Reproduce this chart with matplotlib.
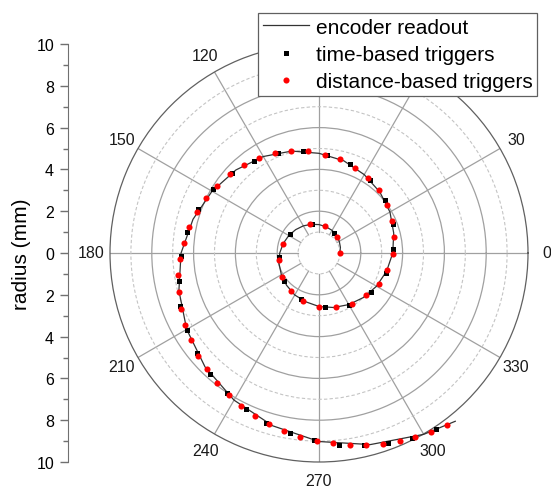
import numpy as np
import matplotlib.pyplot as plt

plt.rcParams['font.family'] = ['Liberation Sans', 'DejaVu Sans']

# encoder readout (angle in degrees, accumulated over the turns; radius in mm)
enc_deg = [0, 15, 30, 45, 60, 75, 90, 105, 120, 135, 150, 165, 180, 195, 210,
           225, 240, 255, 270, 285, 300, 315, 330, 345, 360, 375, 390, 405,
           420, 435, 450, 465, 480, 495, 510, 525, 540, 555, 570, 585, 600,
           615, 630, 645, 660, 669]
enc_r = [1.00, 1.06, 1.12, 1.18, 1.25, 1.30, 1.36, 1.42, 1.50, 1.58, 1.67,
         1.77, 1.88, 1.98, 2.08, 2.19, 2.32, 2.42, 2.56, 2.70, 2.85, 3.01,
         3.18, 3.35, 3.53, 3.70, 3.92, 4.12, 4.33, 4.57, 4.77, 5.05, 5.33,
         5.62, 5.91, 6.24, 6.60, 6.94, 7.31, 7.71, 8.13, 8.56, 9.02, 9.49,
         10.02, 10.36]

# time-based triggers
time_deg = [53, 103.7, 147, 185.7, 218.7, 248.4, 276, 299.9, 323.2, 343.4,
            363.1, 381.2, 398.7, 415.4, 430.7, 445.3, 459.1, 472.4, 485.3,
            497.2, 508.9, 520.1, 530.9, 541.1, 551.3, 560.9, 570.3, 579.4,
            588.1, 596.6, 604.9, 612.8, 620.7, 628.4, 635.9, 643.2, 650.1,
            656.8, 663.7]
time_r = [1.22, 1.41, 1.65, 1.92, 2.14, 2.38, 2.61, 2.85, 3.09, 3.35, 3.56,
          3.80, 4.03, 4.26, 4.49, 4.70, 4.96, 5.19, 5.41, 5.65, 5.90, 6.14,
          6.38, 6.62, 6.85, 7.10, 7.31, 7.56, 7.78, 8.02, 8.26, 8.52, 8.73,
          8.97, 9.22, 9.45, 9.66, 9.91, 10.12]

# distance-based triggers
dist_deg = [0, 41.7, 77.3, 108, 166, 190.4, 212.4, 233, 251.8, 270.4, 287.4,
            303.1, 318.2, 332.8, 346, 359.5, 371.8, 383.6, 395.2, 406.4,
            416.7, 427.1, 437.2, 446.5, 456, 465.4, 473.8, 482.5, 490.7,
            498.5, 506.6, 514, 521.5, 528.7, 535.6, 542.5, 549, 555.7, 562.1,
            568.2, 574.2, 580.3, 586.1, 592, 597.5, 603.1, 608.5, 613.7, 619,
            624.2, 629.3, 634.2, 639.1, 643.8, 648.5, 653.3, 657.6, 662.2,
            666.7]
dist_r = [1.00, 1.18, 1.31, 1.44, 1.78, 1.95, 2.11, 2.26, 2.40, 2.57, 2.72,
          2.89, 3.04, 3.21, 3.35, 3.54, 3.65, 3.83, 3.98, 4.14, 4.30, 4.43,
          4.60, 4.71, 4.89, 5.06, 5.21, 5.37, 5.53, 5.68, 5.85, 6.01, 6.17,
          6.34, 6.48, 6.64, 6.81, 6.96, 7.13, 7.28, 7.43, 7.59, 7.73, 7.90,
          8.05, 8.21, 8.36, 8.54, 8.68, 8.83, 9.01, 9.13, 9.32, 9.46, 9.64,
          9.77, 9.94, 10.10, 10.26]

angle_ticks = [0, 30, 60, 90, 120, 150, 180, 210, 240, 270, 300, 330]
# 60 and 90 sit under the legend box
angle_labels = ['0', '30', '', '', '120', '150', '180', '210', '240', '270',
                '300', '330']
radius_ticks = [-10, -8, -6, -4, -2, 0, 2, 4, 6, 8, 10]
radius_labels = [str(abs(v)) for v in radius_ticks]

fig = plt.figure(figsize=(5.51, 4.89), dpi=100)

ax = fig.add_axes([110/551, 26/489, 418/551, 418/489], projection='polar')
ax.set_ylim(0, 10)
ax.set_yticks([2, 4, 6, 8])
ax.set_yticks([1, 3, 5, 7, 9], minor=True)
ax.set_yticklabels([])
ax.tick_params(axis='y', which='both', length=0)
ax.yaxis.grid(True, which='major', color='#a0a0a0', lw=0.9, ls='-')
ax.yaxis.grid(True, which='minor', color='#c4c4c4', lw=0.8, ls=(0, (3, 2)))
ax.xaxis.grid(False)
ax.set_xticks(np.deg2rad(angle_ticks))
ax.set_xticklabels(angle_labels)
ax.tick_params(axis='x', pad=3, labelsize=11.5, colors='#1a1a1a')
ax.spines['polar'].set_color('#606060')
ax.spines['polar'].set_linewidth(0.9)

# spokes start at r=1
for a in angle_ticks:
    ax.plot([np.deg2rad(a)] * 2, [1, 10], color='#a0a0a0', lw=0.9, zorder=1)

l1, = ax.plot(np.deg2rad(enc_deg), enc_r, color='#333333', lw=0.9,
              zorder=3, clip_on=False)
l2, = ax.plot(np.deg2rad(time_deg), time_r, 's', color='black', ms=3.6,
              mew=0, zorder=4, clip_on=False)
l3, = ax.plot(np.deg2rad(dist_deg), dist_r, 'o', color='#ff0000', ms=4.4,
              mew=0, zorder=5, clip_on=False)

# left radius scale
lax = fig.add_axes([68/551, 26/489, 0.001, 418/489])
lax.set_ylim(-10, 10)
for s in ['top', 'right', 'bottom']:
    lax.spines[s].set_visible(False)
lax.spines['left'].set_color('#707070')
lax.set_xticks([])
lax.set_yticks(radius_ticks)
lax.set_yticklabels(radius_labels)
lax.set_yticks([-9, -7, -5, -3, -1, 1, 3, 5, 7, 9], minor=True)
lax.tick_params(axis='y', which='major', length=6, width=1, color='#707070',
                labelsize=11.5, pad=4)
lax.tick_params(axis='y', which='minor', length=3.8, width=1, color='#707070')
lax.patch.set_visible(False)

fig.text(22/551, (489-254)/489, 'radius (mm)', rotation=90, ha='center',
         va='center', fontsize=15)

leg = fig.legend([l1, l2, l3],
                 ['encoder readout', 'time-based triggers',
                  'distance-based triggers'],
                 loc='upper left', bbox_to_anchor=(258/551, 1 - 14/489),
                 fontsize=15, numpoints=1, fancybox=False, framealpha=1,
                 edgecolor='#606060', handlelength=2.25, handletextpad=0.3,
                 borderpad=0.22, labelspacing=0.4, borderaxespad=0)
leg.get_frame().set_linewidth(0.9)

fig.savefig('out.png', dpi=100)
